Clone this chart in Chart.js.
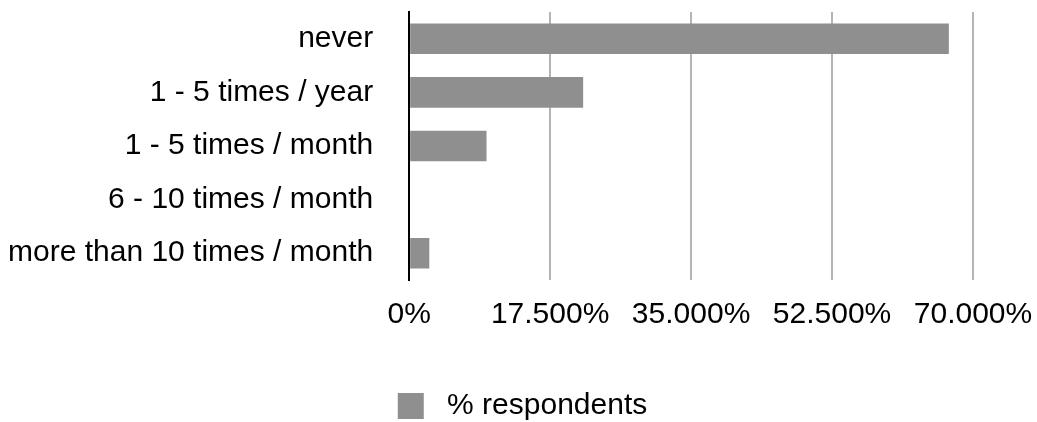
<!DOCTYPE html>
<html>
<head>
<meta charset="utf-8">
<script src="https://cdn.jsdelivr.net/npm/chart.js@4.4.1/dist/chart.umd.min.js"></script>
<style>
  html, body { margin: 0; padding: 0; background: #ffffff; }
  #wrap { width: 1037px; height: 422px; }
</style>
</head>
<body>
<div id="wrap"><canvas id="freqChart" width="1037" height="422"></canvas></div>
<script>
const categories = ['never', '1 - 5 times / year', '1 - 5 times / month', '6 - 10 times / month', 'more than 10 times / month'];
const respondents = [67.0, 21.6, 9.6, 0, 2.5];
const tickValues = [0, 17.5, 35, 52.5, 70];
const seriesLabel = '% respondents';

const fontFamily = '"Liberation Sans", Arial, Helvetica, sans-serif';

const ctx = document.getElementById('freqChart');
new Chart(ctx, {
  type: 'bar',
  data: {
    labels: categories,
    datasets: [
      {
        label: seriesLabel,
        data: respondents,
        backgroundColor: '#8f8f8f',
        borderWidth: 0,
        barPercentage: 0.57,
        categoryPercentage: 1.0,
      },
    ],
  },
  options: {
    indexAxis: 'y',
    responsive: false,
    animation: false,
    layout: {
      // negative bottom pushes the legend closer to the canvas edge
      padding: { left: 8, right: 0, top: 12, bottom: -9 },
    },
    scales: {
      x: {
        min: 0,
        max: 70,
        afterBuildTicks: (scale) => {
          scale.ticks = tickValues.map(v => ({ value: v }));
        },
        afterFit: (scale) => {
          scale.height += 58; // gap above the legend
          scale.paddingRight = 64; // room for the last tick label, keeps legend centred
        },
        grid: {
          color: '#b4b4b4',
          lineWidth: 2,
          drawTicks: true,
          tickLength: 17,
          tickColor: 'rgba(0,0,0,0)',
        },
        border: { display: false },
        ticks: {
          color: '#000',
          padding: 0,
          font: { family: fontFamily, size: 30 },
          callback: (v) => (v === 0 ? '0%' : v.toFixed(3) + '%'),
        },
      },
      y: {
        afterFit: (scale) => {
          scale.paddingTop = 0;
          scale.paddingBottom = 0;
        },
        grid: {
          display: true,
          drawOnChartArea: false,
          drawTicks: true,
          tickLength: 36,
          tickColor: 'rgba(0,0,0,0)',
        },
        border: { display: true, color: '#000', width: 2 },
        ticks: {
          color: '#000',
          padding: 0,
          font: { family: fontFamily, size: 30 },
        },
      },
    },
    plugins: {
      legend: {
        position: 'bottom',
        labels: {
          color: '#000',
          boxWidth: 26,
          boxHeight: 26,
          padding: 0,
          font: { family: fontFamily, size: 30 },
          generateLabels: (chart) =>
            Chart.defaults.plugins.legend.labels.generateLabels(chart).map(l => ({ ...l, text: ' ' + l.text })),
        },
      },
      tooltip: { enabled: false },
    },
  },
});
</script>
</body>
</html>
